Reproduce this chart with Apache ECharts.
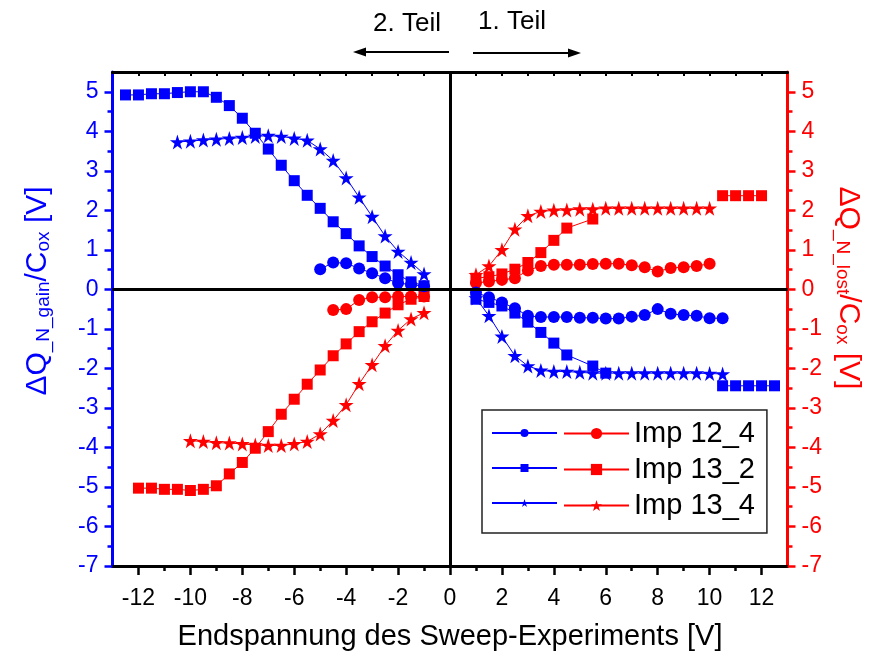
<!DOCTYPE html>
<html><head><meta charset="utf-8">
<script src="https://cdn.jsdelivr.net/npm/echarts@6/dist/echarts.min.js"></script>
<style>html,body{margin:0;padding:0;background:#fff}#c{width:871px;height:661px}</style>
</head><body><div id="c"></div><script>
const FONT = '"Liberation Sans", Arial, sans-serif';
const BLUE = '#0000ff', RED = '#ff0000';

// tick labels
const xMajorTicks = [-12, -10, -8, -6, -4, -2, 0, 2, 4, 6, 8, 10, 12];
const xMinorTicks = [-11, -9, -7, -5, -3, -1, 1, 3, 5, 7, 9, 11];
const xTopTicks = [-12, -11, -10, -9, -8, -7, -6, -5, -4, -3, -2, -1, 0, 1, 2, 3, 4, 5, 6, 7, 8, 9, 10, 11, 12];
const yMajorTicks = [-7, -6, -5, -4, -3, -2, -1, 0, 1, 2, 3, 4, 5];
const yMinorTicks = [-6.5, -5.5, -4.5, -3.5, -2.5, -1.5, -0.5, 0.5, 1.5, 2.5, 3.5, 4.5];

// legend names
const legendNames = ['Imp 12_4', 'Imp 13_2', 'Imp 13_4'];
const gainNames = ['Imp 12_4 (gain)', 'Imp 13_2 (gain)', 'Imp 13_4 (gain)'];

// ΔQ_N_gain (blue, left axis) — 2. Teil (negative end voltages)
const gain124_L_x = [-5, -4.5, -4, -3.5, -3, -2.5, -2, -1.5, -1];
const gain124_L_y = [0.51, 0.68, 0.66, 0.53, 0.41, 0.28, 0.16, 0.12, 0.08];
const gain132_L_x = [-12.5, -12, -11.5, -11, -10.5, -10, -9.5, -9, -8.5, -8, -7.5, -7, -6.5, -6, -5.5, -5, -4.5, -4, -3.5, -3, -2.5, -2, -1.5, -1];
const gain132_L_y = [4.92, 4.92, 4.95, 4.95, 4.98, 5.0, 5.0, 4.86, 4.65, 4.33, 3.95, 3.55, 3.14, 2.75, 2.38, 2.05, 1.71, 1.41, 1.10, 0.83, 0.59, 0.37, 0.19, 0.09];
const gain134_L_x = [-10.5, -10, -9.5, -9, -8.5, -8, -7.5, -7, -6.5, -6, -5.5, -5, -4.5, -4, -3.5, -3, -2.5, -2, -1.5, -1];
const gain134_L_y = [3.73, 3.75, 3.78, 3.80, 3.82, 3.84, 3.87, 3.89, 3.87, 3.82, 3.77, 3.55, 3.26, 2.82, 2.33, 1.84, 1.35, 0.96, 0.68, 0.39];
// ΔQ_N_gain — 1. Teil (positive end voltages)
const gain124_R_x = [1, 1.5, 2, 2.5, 3, 3.5, 4, 4.5, 5, 5.5, 6, 6.5, 7, 7.5, 8, 8.5, 9, 9.5, 10, 10.5];
const gain124_R_y = [-0.08, -0.20, -0.33, -0.48, -0.67, -0.70, -0.70, -0.70, -0.72, -0.72, -0.74, -0.74, -0.69, -0.65, -0.50, -0.62, -0.65, -0.67, -0.73, -0.73];
const gain132_R_x = [1, 1.5, 2, 2.5, 3, 3.5, 4, 4.5, 5.5, 6];
const gain132_R_y = [-0.25, -0.33, -0.42, -0.60, -0.83, -1.09, -1.36, -1.66, -1.94, -2.12];
const gain132_R2_x = [10.5, 11, 11.5, 12, 12.5];
const gain132_R2_y = [-2.44, -2.44, -2.44, -2.44, -2.44];
const gain134_R_x = [1, 1.5, 2, 2.5, 3, 3.5, 4, 4.5, 5, 5.5, 6, 6.5, 7, 7.5, 8, 8.5, 9, 9.5, 10, 10.5];
const gain134_R_y = [-0.22, -0.67, -1.19, -1.68, -1.94, -2.05, -2.08, -2.08, -2.10, -2.12, -2.12, -2.12, -2.12, -2.12, -2.12, -2.12, -2.12, -2.12, -2.13, -2.14];

// ΔQ_N_lost (red, right axis) — 2. Teil
const lost124_L_x = [-4.5, -4, -3.5, -3, -2.5, -2, -1.5, -1];
const lost124_L_y = [-0.52, -0.50, -0.27, -0.20, -0.20, -0.18, -0.18, -0.18];
const lost132_L_x = [-12, -11.5, -11, -10.5, -10, -9.5, -9, -8.5, -8, -7.5, -7, -6.5, -6, -5.5, -5, -4.5, -4, -3.5, -3, -2.5, -2, -1.5, -1];
const lost132_L_y = [-5.03, -5.03, -5.06, -5.06, -5.09, -5.06, -4.97, -4.67, -4.38, -4.02, -3.60, -3.16, -2.78, -2.40, -2.04, -1.68, -1.38, -1.07, -0.82, -0.60, -0.39, -0.25, -0.18];
const lost134_L_x = [-10, -9.5, -9, -8.5, -8, -7.5, -7, -6.5, -6, -5.5, -5, -4.5, -4, -3.5, -3, -2.5, -2, -1.5, -1];
const lost134_L_y = [-3.83, -3.85, -3.88, -3.89, -3.91, -3.94, -3.95, -3.95, -3.91, -3.85, -3.66, -3.32, -2.92, -2.39, -1.91, -1.43, -1.04, -0.75, -0.59];
// ΔQ_N_lost — 1. Teil
const lost124_R_x = [1, 1.5, 2, 2.5, 3, 3.5, 4, 4.5, 5, 5.5, 6, 6.5, 7, 7.5, 8, 8.5, 9, 9.5, 10];
const lost124_R_y = [0.16, 0.20, 0.24, 0.28, 0.48, 0.59, 0.62, 0.62, 0.62, 0.64, 0.65, 0.65, 0.61, 0.56, 0.45, 0.54, 0.56, 0.59, 0.65];
const lost132_R_x = [1, 1.5, 2, 2.5, 3, 3.5, 4, 4.5, 5.5];
const lost132_R_y = [0.28, 0.32, 0.39, 0.51, 0.68, 0.93, 1.24, 1.55, 1.78];
const lost132_R2_x = [10.5, 11, 11.5, 12];
const lost132_R2_y = [2.37, 2.37, 2.37, 2.37];
const lost134_R_x = [1, 1.5, 2, 2.5, 3, 3.5, 4, 4.5, 5, 5.5, 6, 6.5, 7, 7.5, 8, 8.5, 9, 9.5, 10];
const lost134_R_y = [0.37, 0.59, 1.00, 1.52, 1.86, 1.97, 2.00, 2.01, 2.03, 2.03, 2.05, 2.05, 2.05, 2.05, 2.05, 2.05, 2.05, 2.05, 2.05];

const STAR = 'path://M50,0 L61.2,34.5 L97.6,34.5 L68.2,55.9 L79.4,90.5 L50,69.1 L20.6,90.5 L31.8,55.9 L2.4,34.5 L38.8,34.5 Z';
const SYM = { circle: ['circle', 12], rect: ['rect', 11], star: [STAR, 15] };

const pts = (xs, ys) => xs.map((x, i) => [x, ys[i]]);
function ser(name, xs, ys, color, sym, yIdx) {
  return {
    type: 'line', name, data: pts(xs, ys), xAxisIndex: 0, yAxisIndex: yIdx,
    symbol: SYM[sym][0], symbolSize: SYM[sym][1], showSymbol: true, showAllSymbol: true,
    lineStyle: { color, width: 1 }, itemStyle: { color, borderWidth: 0 },
    silent: true, emphasis: { disabled: true }, z: 3
  };
}

const series = [
  ser(legendNames[0], lost124_L_x, lost124_L_y, RED, 'circle', 1),
  ser(legendNames[1], lost132_L_x, lost132_L_y, RED, 'rect', 1),
  ser(legendNames[2], lost134_L_x, lost134_L_y, RED, 'star', 1),
  ser(legendNames[0], lost124_R_x, lost124_R_y, RED, 'circle', 1),
  ser(legendNames[1], lost132_R_x, lost132_R_y, RED, 'rect', 1),
  ser(legendNames[1], lost132_R2_x, lost132_R2_y, RED, 'rect', 1),
  ser(legendNames[2], lost134_R_x, lost134_R_y, RED, 'star', 1),
  ser(gainNames[0], gain124_L_x, gain124_L_y, BLUE, 'circle', 0),
  ser(gainNames[1], gain132_L_x, gain132_L_y, BLUE, 'rect', 0),
  ser(gainNames[2], gain134_L_x, gain134_L_y, BLUE, 'star', 0),
  ser(gainNames[0], gain124_R_x, gain124_R_y, BLUE, 'circle', 0),
  ser(gainNames[1], gain132_R_x, gain132_R_y, BLUE, 'rect', 0),
  ser(gainNames[1], gain132_R2_x, gain132_R2_y, BLUE, 'rect', 0),
  ser(gainNames[2], gain134_R_x, gain134_R_y, BLUE, 'star', 0),
  {
    type: 'line', name: 'zero', data: [], xAxisIndex: 0, yAxisIndex: 0, z: 10, silent: true,
    markLine: {
      silent: true, symbol: ['none', 'none'], animation: false,
      label: { show: false }, emphasis: { disabled: true },
      lineStyle: { color: '#000', width: 3, type: 'solid' },
      data: [{ yAxis: 0 }, { xAxis: 0 }]
    }
  }
];

const baseX = { type: 'value', min: -13, max: 13, splitLine: { show: false } };
const baseY = { type: 'value', min: -7, max: 5.5, splitLine: { show: false } };
const TICKFS = 23;

const option = {
  animation: false,
  backgroundColor: '#fff',
  textStyle: { fontFamily: FONT },
  grid: { left: 112.5, right: 83.5, top: 72, bottom: 95, containLabel: false },
  xAxis: [
    Object.assign({}, baseX, {
      position: 'bottom',
      axisLine: { show: true, onZero: false, lineStyle: { color: '#000', width: 3 } },
      axisTick: { show: true, inside: false, length: 9, customValues: xMajorTicks, lineStyle: { color: '#000', width: 2.5 } },
      axisLabel: { show: true, customValues: xMajorTicks, color: '#000', fontSize: TICKFS, fontFamily: FONT, margin: 21 },
      name: 'Endspannung des Sweep-Experiments [V]', nameLocation: 'middle', nameGap: 56,
      nameTextStyle: { color: '#000', fontSize: 29, fontFamily: FONT }
    }),
    Object.assign({}, baseX, {
      position: 'bottom',
      axisLine: { show: false, onZero: false },
      axisTick: { show: true, inside: false, length: 5, customValues: xMinorTicks, lineStyle: { color: '#000', width: 2.5 } },
      axisLabel: { show: false }
    }),
    Object.assign({}, baseX, {
      position: 'top',
      axisLine: { show: true, onZero: false, lineStyle: { color: '#000', width: 3 } },
      axisTick: { show: true, inside: true, length: 4, customValues: xTopTicks, lineStyle: { color: '#000', width: 2 } },
      axisLabel: { show: false }
    })
  ],
  yAxis: [
    Object.assign({}, baseY, {
      position: 'left',
      axisLine: { show: true, onZero: false, lineStyle: { color: BLUE, width: 3 } },
      axisTick: { show: true, inside: false, length: 8, customValues: yMajorTicks, lineStyle: { color: BLUE, width: 2.5 } },
      axisLabel: { show: true, customValues: yMajorTicks, color: BLUE, fontSize: TICKFS, fontFamily: FONT, margin: 14 }
    }),
    Object.assign({}, baseY, {
      position: 'right',
      axisLine: { show: true, onZero: false, lineStyle: { color: RED, width: 3 } },
      axisTick: { show: true, inside: false, length: 8, customValues: yMajorTicks, lineStyle: { color: RED, width: 2.5 } },
      axisLabel: { show: true, customValues: yMajorTicks, color: RED, fontSize: TICKFS, fontFamily: FONT, margin: 14 }
    }),
    Object.assign({}, baseY, {
      position: 'left',
      axisLine: { show: false, onZero: false },
      axisTick: { show: true, inside: false, length: 5, customValues: yMinorTicks, lineStyle: { color: BLUE, width: 2.5 } },
      axisLabel: { show: false }
    }),
    Object.assign({}, baseY, {
      position: 'right',
      axisLine: { show: false, onZero: false },
      axisTick: { show: true, inside: false, length: 5, customValues: yMinorTicks, lineStyle: { color: RED, width: 2.5 } },
      axisLabel: { show: false }
    })
  ],
  legend: [
    {
      data: gainNames, orient: 'vertical', left: 491, top: 419, padding: 0,
      itemWidth: 65, itemHeight: 10, itemGap: 7, selectedMode: false,
      formatter: () => ' ',
      textStyle: { fontSize: 28, lineHeight: 28, fontFamily: FONT, color: '#000' }
    },
    {
      data: legendNames, orient: 'vertical', left: 482, top: 410, padding: [9, 12, 13, 81],
      itemWidth: 65, itemHeight: 14, itemGap: 7, selectedMode: false,
      borderColor: '#222', borderWidth: 1.5,
      textStyle: { fontSize: 29, lineHeight: 28, fontFamily: FONT, color: '#000' }
    }
  ],
  graphic: [
    {
      type: 'text', x: 38, y: 291, rotation: Math.PI / 2, silent: true,
      style: {
        text: '{m|ΔQ}{s|_N_gain}{m|/C}{s|ox}{m| [V]}',
        fill: BLUE, align: 'center', verticalAlign: 'middle', fontFamily: FONT,
        rich: {
          m: { fontSize: 30, lineHeight: 30, verticalAlign: 'top', fill: BLUE, fontFamily: FONT },
          s: { fontSize: 19, lineHeight: 19, padding: [19, 0, 0, 0], verticalAlign: 'bottom', fill: BLUE, fontFamily: FONT }
        }
      }
    },
    {
      type: 'text', x: 848, y: 288, rotation: -Math.PI / 2, silent: true,
      style: {
        text: '{m|ΔQ}{s|_N_lost}{m|/C}{s|ox}{m| [V]}',
        fill: RED, align: 'center', verticalAlign: 'middle', fontFamily: FONT,
        rich: {
          m: { fontSize: 30, lineHeight: 30, verticalAlign: 'top', fill: RED, fontFamily: FONT },
          s: { fontSize: 19, lineHeight: 19, padding: [19, 0, 0, 0], verticalAlign: 'bottom', fill: RED, fontFamily: FONT }
        }
      }
    },
    { type: 'text', x: 407, y: 24, silent: true,
      style: { text: '2. Teil', fill: '#000', fontSize: 26, fontFamily: FONT, align: 'center', verticalAlign: 'middle' } },
    { type: 'text', x: 512, y: 22, silent: true,
      style: { text: '1. Teil', fill: '#000', fontSize: 26, fontFamily: FONT, align: 'center', verticalAlign: 'middle' } },
    { type: 'line', silent: true, shape: { x1: 449, y1: 52, x2: 362, y2: 52 }, style: { stroke: '#000', lineWidth: 2 } },
    { type: 'polygon', silent: true, shape: { points: [[353, 52], [366, 47.5], [366, 56.5]] }, style: { fill: '#000' } },
    { type: 'line', silent: true, shape: { x1: 473, y1: 53, x2: 571, y2: 53 }, style: { stroke: '#000', lineWidth: 2 } },
    { type: 'polygon', silent: true, shape: { points: [[581, 53], [568, 48.5], [568, 57.5]] }, style: { fill: '#000' } }
  ],
  series
};

const chart = echarts.init(document.getElementById('c'), null, { renderer: 'canvas' });
chart.setOption(option);
</script></body></html>
